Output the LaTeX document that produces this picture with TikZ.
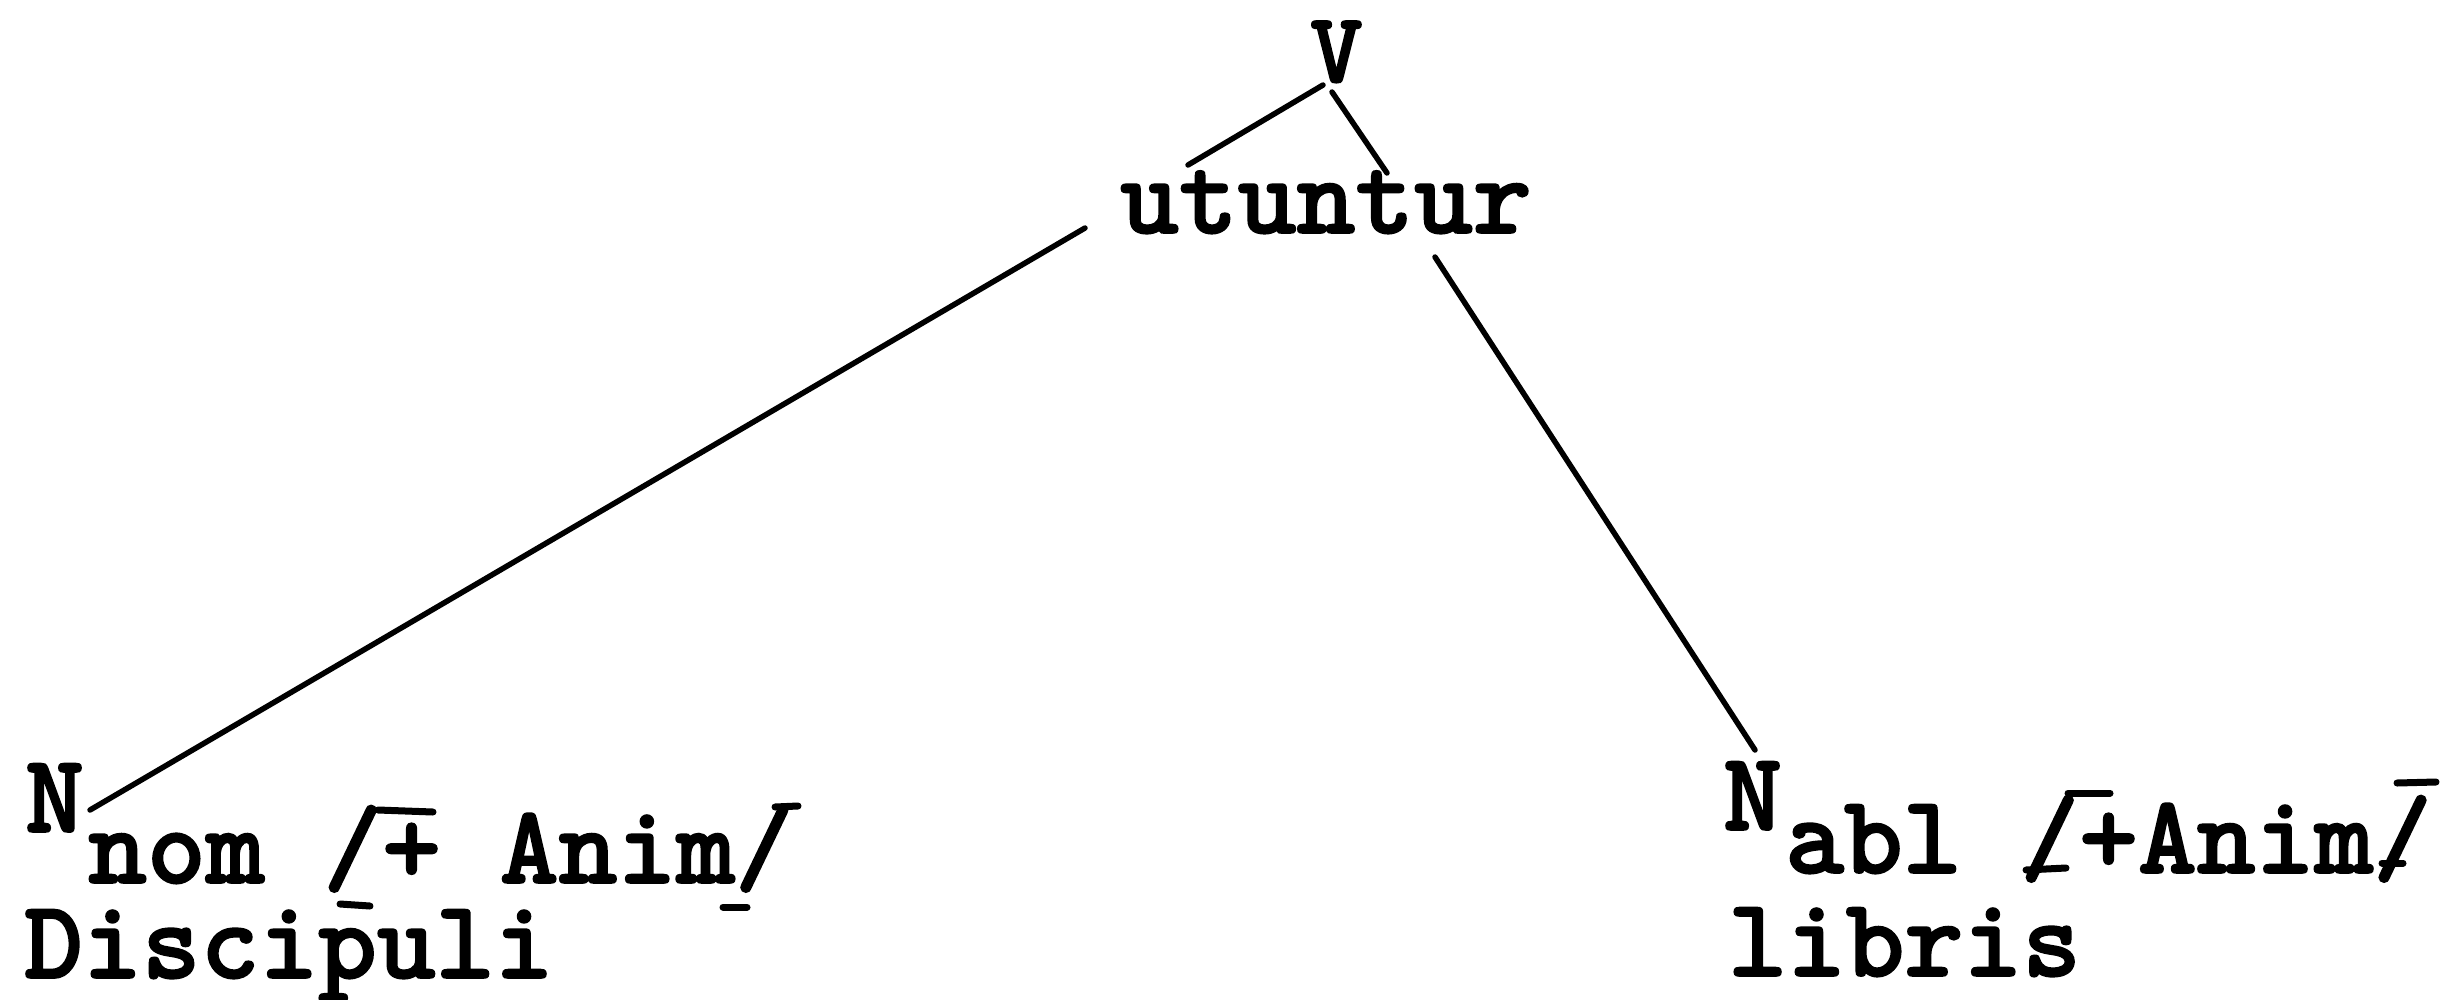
\documentclass[tikz,border=0pt]{standalone}
\usepackage{fontspec}
\newfontfamily\tw{lmmonolt10-bold.otf}[FakeBold=1.6]
\begin{document}
\begin{tikzpicture}[x=1pt,y=-1pt,
  txt/.style={font=\tw\fontsize{112}{112}\selectfont, inner sep=0pt, anchor=base west},
  branch/.style={line width=5.5pt, line cap=round},
  bar/.style={line width=7pt, line cap=round}]
\useasboundingbox (0,0) rectangle (2444,999);
% nodes
\node[txt, font=\tw\fontsize{100}{100}\selectfont] (V) at (1310,82) {V};
\node[txt] (verb) at (1120,233) {utuntur};
\node[txt] (Nl) at (25,832) {N};
\node[txt] (featl) at (88,883) {nom /+ Anim/};
\node[txt] (wordl) at (24,978) {Discipuli};
\node[txt] (Nr) at (1723,830) {N};
\node[txt] (featr) at (1785,873) {abl /+Anim/};
\node[txt] (wordr) at (1728,976) {libris};
% branch points
\coordinate (vl) at (1323,85);
\coordinate (vl2) at (1188,165);
\coordinate (ul) at (1085,228);
\coordinate (nl) at (90,810);
\coordinate (vr) at (1332,92);
\coordinate (vr2) at (1387,173);
\coordinate (ur) at (1435,257);
\coordinate (nr) at (1755,750);
\draw[branch] (vl) -- (vl2);
\draw[branch] (ul) -- (nl);
\draw[branch] (vr) -- (vr2);
\draw[branch] (ur) -- (nr);
% typewritten bracket bars
\draw[bar] (378,810) -- (433,812);
\draw[bar] (340,904) -- (370,906);
\draw[bar] (775,807) -- (798,806);
\draw[bar] (723,907) -- (747,907);
\draw[bar] (2068,793) -- (2110,793);
\draw[bar] (2026,870) -- (2066,868);
\draw[bar] (2397,783) -- (2436,782);
\draw[bar] (2382,863) -- (2403,863);
\end{tikzpicture}
\end{document}
